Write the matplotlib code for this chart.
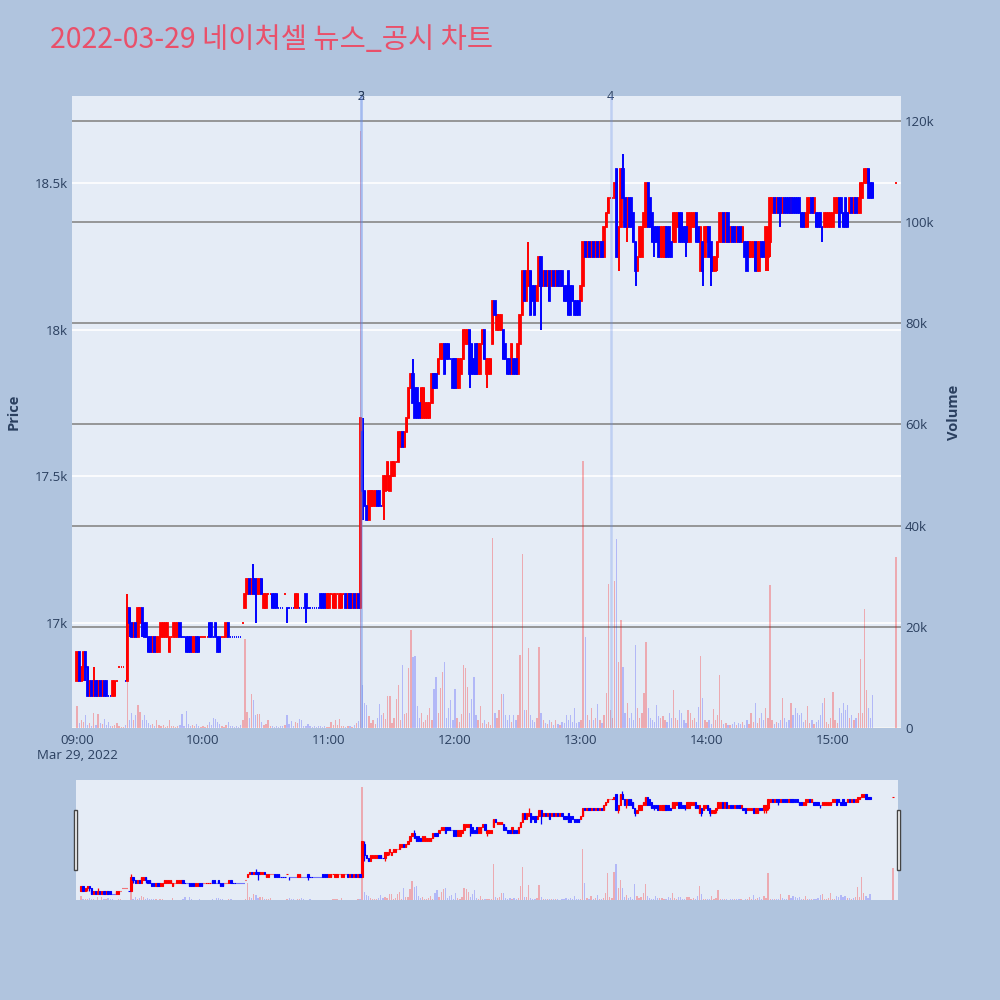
import matplotlib
matplotlib.use('Agg')
import matplotlib.pyplot as plt
from matplotlib.patches import Rectangle

plt.rcParams['font.family'] = ['Open Sans', 'DejaVu Sans']

# ---------------- data (minutes after 09:00) ----------------
minute_offsets = list(range(380)) + [390]

opens = [
    16800,16900,16800,16850,16900,16850,16750,16800,16750,16800,
    16750,16800,16750,16800,16800,16750,16750,16750,16750,16800,
    16850,16850,16850,16800,16800,17050,17000,16950,17000,16950,
    17000,17050,17000,17000,16950,16950,16900,16950,16900,16900,
    16950,16950,16950,16950,16900,16950,16950,16950,16950,17000,
    16950,16950,16950,16950,16950,16900,16900,16950,16950,16950,
    16950,16950,16950,17000,17000,16950,17000,16950,16950,16950,
    16950,16950,17000,16950,16950,16950,16950,16950,16950,17000,
    17050,17100,17150,17100,17150,17150,17100,17100,17150,17050,
    17050,17100,17100,17100,17100,17100,17050,17050,17050,17100,
    17050,17050,17050,17050,17050,17050,17050,17050,17050,17100,
    17050,17050,17050,17050,17050,17050,17100,17100,17100,17050,
    17050,17100,17050,17050,17100,17050,17050,17100,17100,17050,
    17100,17050,17100,17050,17100,17050,17650,17450,17400,17350,
    17400,17400,17400,17450,17450,17400,17400,17450,17500,17450,
    17500,17500,17550,17550,17600,17650,17600,17650,17700,17800,
    17850,17800,17800,17750,17700,17700,17700,17700,17700,17750,
    17850,17850,17850,17900,17900,17950,17950,17950,17900,17900,
    17900,17800,17800,17850,17900,17950,17950,18000,17950,17900,
    17950,17850,17850,17950,18000,17850,17850,17850,17950,18100,
    18000,18000,18000,18000,17950,17900,17900,17850,17900,17900,
    17850,17950,18050,18200,18100,18150,18200,18150,18150,18100,
    18150,18250,18150,18200,18150,18200,18150,18200,18150,18200,
    18150,18200,18150,18150,18200,18150,18150,18100,18100,18100,
    18100,18150,18300,18250,18300,18250,18300,18250,18300,18250,
    18300,18250,18350,18400,18450,18450,18450,18550,18250,18350,
    18550,18450,18350,18450,18450,18400,18300,18200,18250,18250,
    18350,18350,18500,18450,18400,18350,18350,18350,18250,18250,
    18250,18350,18350,18300,18300,18300,18350,18400,18400,18350,
    18350,18300,18300,18350,18350,18400,18350,18200,18300,18250,
    18300,18350,18300,18200,18200,18250,18300,18300,18400,18300,
    18400,18300,18350,18350,18300,18350,18350,18300,18300,18300,
    18250,18250,18250,18300,18200,18200,18300,18300,18250,18250,
    18300,18400,18450,18400,18450,18450,18400,18450,18450,18450,
    18400,18450,18450,18450,18450,18400,18400,18350,18350,18400,
    18450,18400,18400,18400,18400,18350,18350,18350,18350,18350,
    18350,18400,18400,18450,18450,18400,18450,18400,18400,18450,
    18400,18450,18400,18400,18450,18500,18500,18550,18500,18500,
    18500,
]

closes = [
    16900,16800,16850,16900,16850,16750,16800,16750,16800,16750,
    16800,16750,16800,16750,16750,16750,16750,16800,16800,16800,
    16850,16850,16850,16800,17050,17000,16950,17000,16950,17050,
    17050,17000,16950,16950,16900,16900,16950,16900,16950,16950,
    17000,17000,17000,17000,16950,16950,17000,17000,17000,16950,
    16950,16950,16900,16900,16900,16950,16950,16900,16900,16950,
    16950,16950,16950,16950,16950,16950,16950,16900,16900,16950,
    16950,17000,16950,16950,16950,16950,16950,16950,16950,17000,
    17100,17150,17100,17150,17100,17100,17150,17150,17100,17100,
    17100,17100,17100,17050,17050,17050,17050,17050,17050,17100,
    17050,17050,17050,17050,17100,17100,17050,17050,17050,17050,
    17050,17050,17050,17050,17050,17050,17050,17050,17050,17100,
    17100,17100,17100,17100,17100,17100,17100,17100,17050,17100,
    17050,17100,17050,17100,17050,17700,17450,17400,17350,17450,
    17450,17450,17450,17400,17400,17400,17500,17500,17550,17500,
    17550,17550,17550,17650,17650,17600,17650,17700,17800,17850,
    17750,17700,17700,17700,17800,17800,17750,17750,17750,17850,
    17800,17800,17900,17950,17950,17850,17900,17900,17900,17800,
    17800,17900,17900,17900,18000,18000,18000,17850,17850,17850,
    17850,17950,17950,18000,17900,17900,17900,17900,18100,18050,
    18050,18050,18050,17900,17900,17850,17850,17950,17850,17850,
    17950,18050,18200,18100,18200,18200,18050,18100,18050,18150,
    18250,18150,18200,18150,18200,18100,18200,18150,18200,18150,
    18200,18150,18100,18100,18050,18050,18100,18050,18050,18050,
    18150,18300,18250,18300,18250,18300,18250,18300,18250,18300,
    18250,18350,18400,18450,18450,18450,18500,18250,18350,18550,
    18450,18350,18450,18350,18350,18300,18200,18250,18350,18350,
    18400,18500,18350,18350,18300,18300,18300,18250,18350,18350,
    18350,18250,18250,18250,18400,18400,18400,18300,18300,18300,
    18300,18400,18400,18400,18400,18300,18300,18350,18200,18350,
    18350,18250,18200,18250,18250,18300,18400,18400,18300,18400,
    18300,18350,18300,18300,18350,18300,18300,18350,18250,18200,
    18300,18300,18300,18200,18300,18300,18250,18250,18350,18350,
    18450,18450,18400,18450,18400,18400,18450,18400,18400,18400,
    18450,18400,18400,18400,18400,18350,18350,18400,18450,18450,
    18400,18450,18350,18350,18350,18350,18400,18400,18400,18400,
    18400,18450,18450,18350,18400,18350,18350,18350,18450,18400,
    18450,18400,18450,18500,18500,18550,18550,18450,18450,18450,
    18500,
]

# wick extremes beyond the candle body (minute -> price)
wick_highs = {8: 16850, 24: 17100, 84: 17200, 136: 17700, 160: 17900,
              215: 18300, 260: 18600}
wick_lows = {3: 16800, 4: 16800, 25: 16950, 31: 16950, 85: 17000, 100: 17000,
             109: 17000, 136: 17350, 146: 17350, 148: 17450, 187: 17800,
             195: 17800, 221: 18000, 258: 18200, 262: 18300, 266: 18150,
             275: 18250, 290: 18250, 298: 18150, 302: 18150, 305: 18200,
             328: 18200, 329: 18200, 330: 18250, 335: 18350, 355: 18300}

volumes = [
    4400,1000,1500,1200,2500,600,1000,400,3000,500,
    2700,1000,800,1800,600,1200,300,400,600,900,
    300,200,200,500,9000,1500,3000,1500,2500,4500,
    3200,1500,2500,1500,1000,600,800,400,1500,600,
    300,500,200,400,1600,300,400,200,300,600,
    2800,400,3300,800,300,500,400,700,300,200,
    300,200,500,1200,500,2000,1800,1200,700,300,
    200,600,1200,300,400,200,300,200,500,1500,
    17500,3200,2000,6700,5600,2500,2800,2800,1200,600,
    800,1600,400,300,200,300,200,400,300,600,
    2500,800,1300,400,1200,1000,1800,1500,300,400,
    800,300,200,300,200,400,300,200,300,100,
    200,1200,600,1500,500,1800,400,300,200,300,
    400,200,500,1000,1300,118000,8500,5000,4500,2300,
    1000,1500,800,2000,4700,2500,3000,1800,6300,6300,
    1000,2000,5800,8500,1500,12400,2800,3000,11800,19400,
    14000,14300,4300,2000,3000,1200,1500,2500,3900,1500,
    7800,10000,3000,8000,11000,13000,2000,3900,5500,1500,
    7800,2000,1200,2800,12400,11800,8200,3000,5800,10000,
    2500,1500,4300,1000,1500,800,1200,600,37600,3000,
    2000,3500,6800,6800,2500,1500,2500,1200,2500,1500,
    2500,14400,34400,3500,3500,15900,2500,1500,1200,2000,
    16000,3000,1500,1000,800,1500,1200,600,1500,800,
    500,1200,1000,2500,1500,2500,1200,3900,1000,1200,
    1500,52800,18000,2500,1500,4000,1500,2000,4800,1500,
    1000,2500,7000,28400,3500,2000,29000,37400,13000,21300,
    12000,3000,5000,2000,3000,1500,16400,4000,2000,3000,
    7000,17000,4000,2000,1500,1200,4500,2400,2000,2400,
    1500,1200,3000,2000,7600,2000,1500,3500,3000,1500,
    1000,3600,3000,1500,2000,1200,4200,14300,5900,1500,
    1200,1500,800,3800,1500,2500,10500,1500,700,1000,
    600,500,800,1200,600,1000,700,1200,500,1500,
    800,3000,1200,5000,1000,2000,3000,1500,4000,2000,
    28200,1500,800,1200,1000,1500,5900,2000,1200,1500,
    4900,2500,4000,3000,2500,3000,1200,1500,4300,1000,
    1500,800,1200,1500,2500,5000,6000,1200,800,2000,
    7200,1500,1000,4000,3000,5000,3500,4500,2000,2500,
    1500,2000,3000,13600,3000,23600,7500,4000,2000,6500,
    33800,
]

x_tick_minutes = [0, 60, 120, 180, 240, 300, 360]
x_tick_labels = ['09:00\nMar 29, 2022', '10:00', '11:00', '12:00', '13:00', '14:00', '15:00']
price_ticks = [17000, 17500, 18000, 18500]
price_tick_labels = ['17k', '17.5k', '18k', '18.5k']
volume_ticks = [0, 20000, 40000, 60000, 80000, 100000, 120000]
volume_tick_labels = ['0', '20k', '40k', '60k', '80k', '100k', '120k']
news_minutes = [135.1, 135.4, 254.2]
news_labels = ['2', '3', '4']
title = '2022-03-29 네이처셀 뉴스_공시 차트'

# ---------------- derived ----------------
highs = [max(o, c) for o, c in zip(opens, closes)]
lows = [min(o, c) for o, c in zip(opens, closes)]
for i, m in enumerate(minute_offsets):
    if m in wick_highs:
        highs[i] = max(highs[i], wick_highs[m])
    if m in wick_lows:
        lows[i] = min(lows[i], wick_lows[m])

up = []
prev_close, prev_up = None, True
for o, c in zip(opens, closes):
    if c > o:
        d = True
    elif c < o:
        d = False
    else:
        d = prev_up if (prev_close is None or c == prev_close) else (c > prev_close)
    up.append(d)
    prev_close, prev_up = c, d

RED, BLUE = '#ff0000', '#0000ff'
TXT = '#2a3f5f'
XLIM = (-2.4, 392.4)
PLIM = (16641, 18798)
VLIM = (0, 124900)

fig = plt.figure(figsize=(10, 10), dpi=100, facecolor='#b0c4de')


def draw(ax_v, ax_p, body_lw, wick_lw, vol_w):
    ax_v.set_facecolor('#e5ecf6')
    for flag, col, vcol in [(True, RED, (1, 0, 0, 0.28)), (False, BLUE, (0, 0, 1, 0.22))]:
        idx = [i for i in range(len(minute_offsets)) if up[i] == flag]
        xs = [minute_offsets[i] for i in idx]
        ax_v.bar(xs, [volumes[i] for i in idx], width=vol_w, color=vcol, linewidth=0, zorder=2)
        ax_p.vlines(xs, [lows[i] for i in idx], [highs[i] for i in idx], color=col,
                    linewidth=wick_lw, zorder=3)
        ax_p.bar(xs, [abs(closes[i] - opens[i]) for i in idx],
                 bottom=[min(opens[i], closes[i]) for i in idx], width=0.6,
                 color=col, edgecolor=col, linewidth=body_lw, zorder=4)
    ax_v.set_xlim(*XLIM)
    ax_p.set_xlim(*XLIM)
    ax_v.set_ylim(*VLIM)
    ax_p.set_ylim(*PLIM)


# ---------------- main chart ----------------
L, R, T, B = 72, 901, 96, 728
ax_v = fig.add_axes([L / 1000, 1 - B / 1000, (R - L) / 1000, (B - T) / 1000])
ax_p = ax_v.twinx()
draw(ax_v, ax_p, 1.3, 1.4, 0.6)

ax_v.yaxis.tick_right()
ax_v.yaxis.set_label_position('right')
ax_p.yaxis.tick_left()
ax_p.yaxis.set_label_position('left')

for s in list(ax_v.spines.values()) + list(ax_p.spines.values()):
    s.set_visible(False)

ax_v.set_yticks(volume_ticks)
ax_v.set_yticklabels(volume_tick_labels)
ax_p.set_yticks(price_ticks)
ax_p.set_yticklabels(price_tick_labels)
ax_v.set_xticks(x_tick_minutes)
ax_v.set_xticklabels(x_tick_labels)
ax_v.tick_params(axis='y', length=0, pad=3, labelsize=9.5, labelcolor=TXT)
ax_p.tick_params(axis='y', length=0, pad=3, labelsize=9.5, labelcolor=TXT)
ax_v.tick_params(axis='x', length=0, pad=4, labelsize=9.5, labelcolor=TXT)
ax_v.set_axisbelow(True)
ax_v.grid(axis='y', color='#8f8f8f', linewidth=1.3)
ax_v.axhline(0, color='white', linewidth=2, zorder=1)
for p in price_ticks:
    ax_v.axhline((p - PLIM[0]) / (PLIM[1] - PLIM[0]) * VLIM[1], color='white',
                 linewidth=1.2, zorder=1)

ax_p.set_ylabel('Price', color=TXT, fontsize=10.5, fontweight='bold', labelpad=10)
ax_v.set_ylabel('Volume', color=TXT, fontsize=10.5, fontweight='bold', labelpad=9)

for m, lab in zip(news_minutes, news_labels):
    ax_p.axvline(m, color=(0.40, 0.55, 0.92, 0.30), linewidth=1.8, zorder=5)
    ax_p.text(m, PLIM[1], lab, ha='center', va='center', fontsize=9, color=TXT,
              clip_on=False)

# ---------------- range slider ----------------
sl = fig.add_axes([76 / 1000, 1 - 900 / 1000, (898 - 76) / 1000, 120 / 1000])
sl_p = sl.twinx()
draw(sl, sl_p, 0.8, 0.9, 0.6)
for a in (sl, sl_p):
    a.set_xticks([])
    a.set_yticks([])
    for s in a.spines.values():
        s.set_visible(False)
for hx in (73.5, 896.5):
    fig.patches.append(Rectangle((hx / 1000, 1 - 870 / 1000), 3.5 / 1000, 60 / 1000,
                                 transform=fig.transFigure, facecolor='white',
                                 edgecolor='#444444', linewidth=1, zorder=10))

fig.text(50 / 1000, 1 - 40 / 1000, title, fontsize=20.5, color='#e9506a',
         family=['Noto Sans CJK KR', 'DejaVu Sans'], va='center', ha='left')

fig.savefig('out.png', dpi=100, facecolor=fig.get_facecolor())
